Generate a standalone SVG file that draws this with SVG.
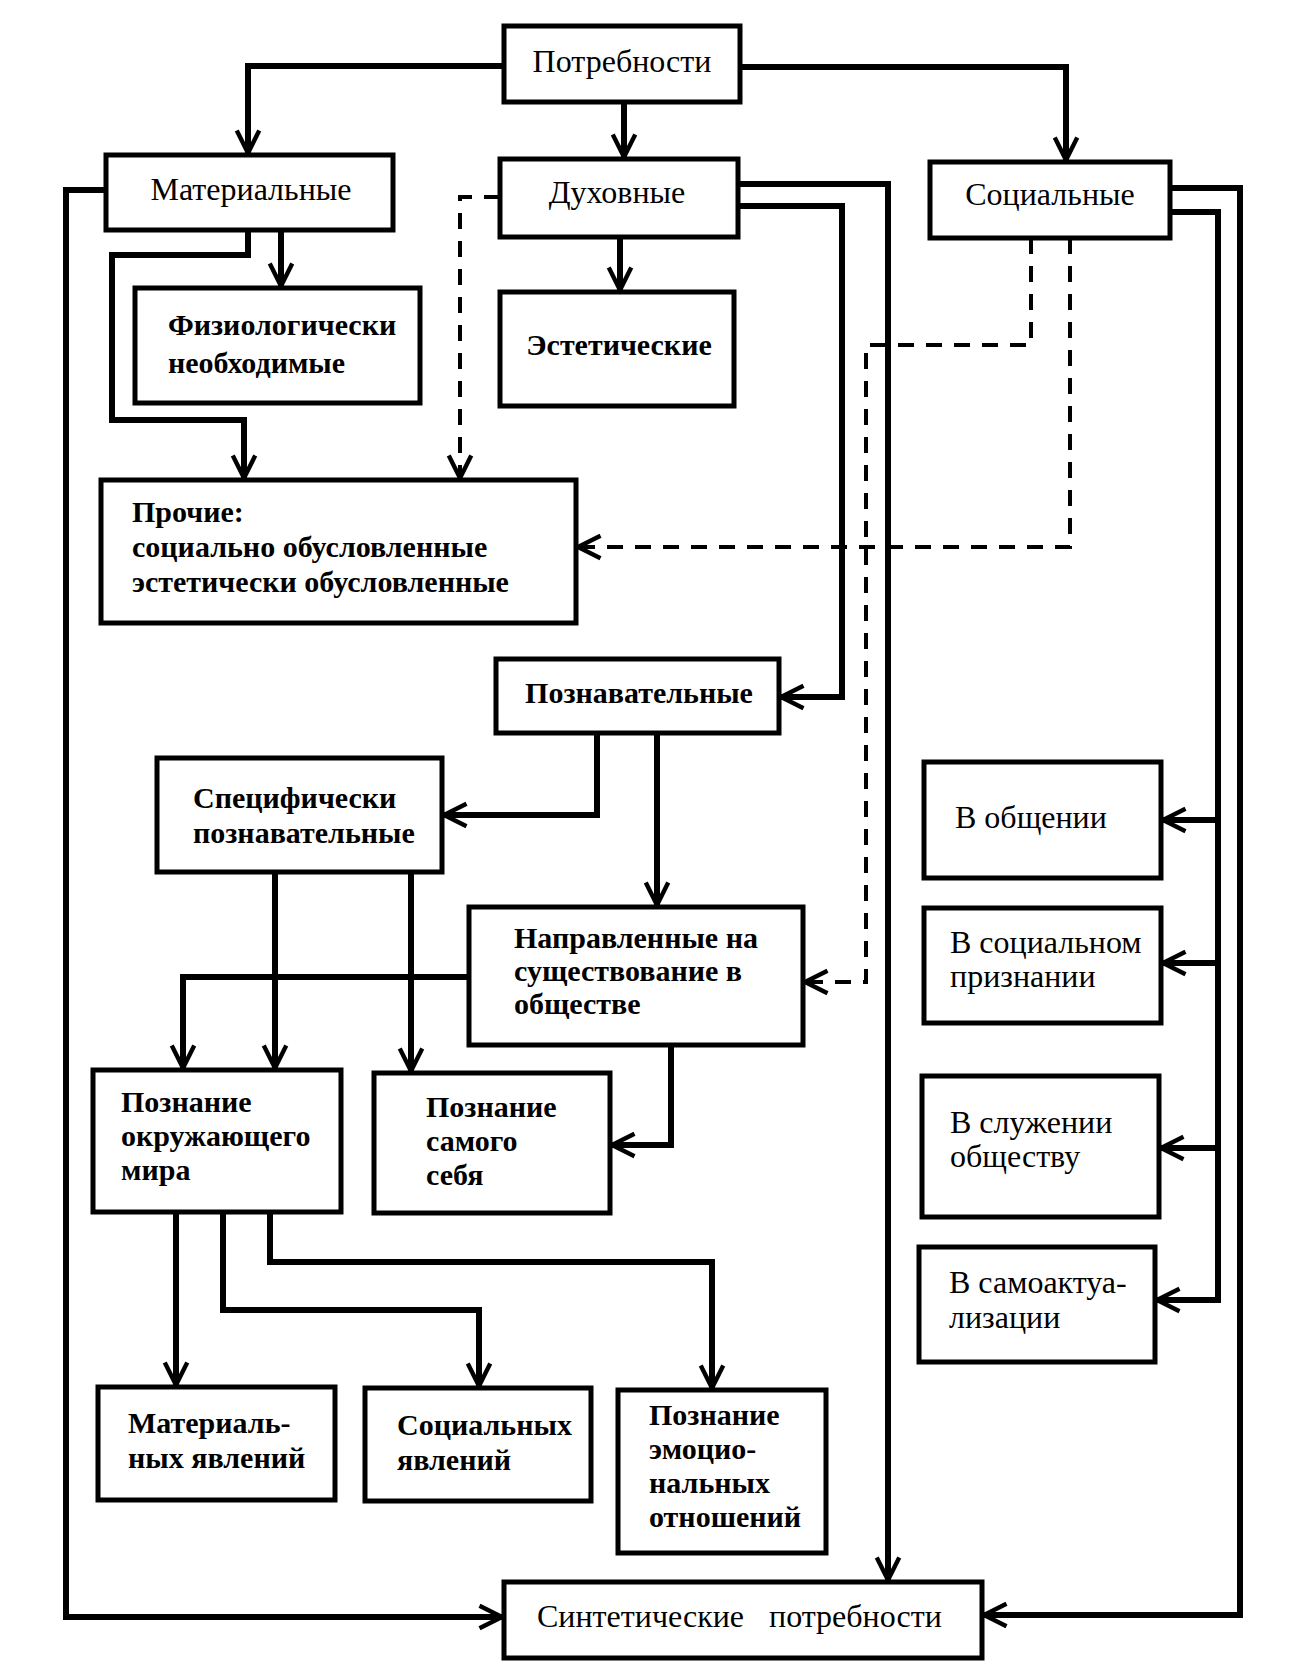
<svg xmlns="http://www.w3.org/2000/svg" width="1290" height="1672" viewBox="0 0 1290 1672">
<defs>
<style>
.n rect{fill:#fff;stroke:#000;stroke-width:5}
text{font-family:"Liberation Serif","DejaVu Serif",serif;font-size:32px;fill:#000}
.b{font-weight:bold;font-size:30px}
.c{fill:none;stroke:#000;stroke-width:6;stroke-linejoin:miter}
.d{fill:none;stroke:#000;stroke-width:4;stroke-dasharray:16 12}
</style>
<marker id="a" markerUnits="userSpaceOnUse" markerWidth="30" markerHeight="30" refX="0" refY="0" viewBox="-20 -12 24 24" orient="auto" overflow="visible">
<path d="M-18,-9 L0,0 L-18,9" fill="none" stroke="#000" stroke-width="3.5"/>
</marker>
</defs>
<rect width="1290" height="1672" fill="#fff"/>
<g id="connectors">
<path class="c" d="M504,66 H248 V153" marker-end="url(#a)"/>
<path class="c" d="M624,102 V157" marker-end="url(#a)"/>
<path class="c" d="M740,67 H1066 V160" marker-end="url(#a)"/>
<path class="c" d="M281,230 V286" marker-end="url(#a)"/>
<path class="c" d="M248,230 V255 H112 V420 H244 V478" marker-end="url(#a)"/>
<path class="c" d="M106,190 H66 V1617 H502" marker-end="url(#a)"/>
<path class="c" d="M620,237 V290" marker-end="url(#a)"/>
<path class="d" d="M500,197 H460 V478" marker-end="url(#a)"/>
<path class="c" d="M738,184 H888 V1580" marker-end="url(#a)"/>
<path class="c" d="M738,206 H842 V697 H781" marker-end="url(#a)"/>
<path class="d" d="M1070,238 V547 H578" marker-end="url(#a)"/>
<path class="d" d="M1031,238 V345 H866 V982 H805" marker-end="url(#a)"/>
<path class="c" d="M1170,188 H1240 V1615 H984" marker-end="url(#a)"/>
<path class="c" d="M1170,212 H1218 V1300 H1157" marker-end="url(#a)"/>
<path class="c" d="M1218,820 H1163" marker-end="url(#a)"/>
<path class="c" d="M1218,963 H1163" marker-end="url(#a)"/>
<path class="c" d="M1218,1148 H1161" marker-end="url(#a)"/>
<path class="c" d="M597,733 V815 H444" marker-end="url(#a)"/>
<path class="c" d="M657,733 V905" marker-end="url(#a)"/>
<path class="c" d="M275,872 V1068" marker-end="url(#a)"/>
<path class="c" d="M411,872 V1071" marker-end="url(#a)"/>
<path class="c" d="M469,977 H183 V1068" marker-end="url(#a)"/>
<path class="c" d="M671,1045 V1145 H612" marker-end="url(#a)"/>
<path class="c" d="M176,1212 V1385" marker-end="url(#a)"/>
<path class="c" d="M223,1212 V1310 H479 V1386" marker-end="url(#a)"/>
<path class="c" d="M270,1212 V1262 H712 V1388" marker-end="url(#a)"/>
</g>
<g class="n" id="n-potrebnosti"><rect x="504" y="26" width="236" height="76"/><text x="622" y="72" text-anchor="middle">Потребности</text></g>
<g class="n" id="n-materialnye"><rect x="106" y="155" width="287" height="75"/><text x="251" y="200" text-anchor="middle">Материальные</text></g>
<g class="n" id="n-duhovnye"><rect x="500" y="159" width="238" height="78"/><text x="617" y="203" text-anchor="middle">Духовные</text></g>
<g class="n" id="n-socialnye"><rect x="930" y="162" width="240" height="76"/><text x="1050" y="205" text-anchor="middle">Социальные</text></g>
<g class="n" id="n-fiziol"><rect x="135" y="288" width="285" height="115"/><text class="b" x="168" y="335">Физиологически</text><text class="b" x="168" y="373">необходимые</text></g>
<g class="n" id="n-estet"><rect x="500" y="292" width="234" height="114"/><text class="b" x="619" y="355" text-anchor="middle">Эстетические</text></g>
<g class="n" id="n-prochie"><rect x="101" y="480" width="475" height="143"/><text class="b" x="132" y="522">Прочие:</text><text class="b" x="132" y="557">социально обусловленные</text><text class="b" x="132" y="592">эстетически обусловленные</text></g>
<g class="n" id="n-poznavat"><rect x="496" y="659" width="283" height="74"/><text class="b" x="639" y="703" text-anchor="middle">Познавательные</text></g>
<g class="n" id="n-specif"><rect x="157" y="758" width="285" height="114"/><text class="b" x="193" y="808">Специфически</text><text class="b" x="193" y="843">познавательные</text></g>
<g class="n" id="n-napravl"><rect x="469" y="907" width="334" height="138"/><text class="b" x="514" y="948">Направленные на</text><text class="b" x="514" y="981">существование в</text><text class="b" x="514" y="1014">обществе</text></g>
<g class="n" id="n-pozn-okr"><rect x="93" y="1070" width="248" height="142"/><text class="b" x="121" y="1112">Познание</text><text class="b" x="121" y="1146">окружающего</text><text class="b" x="121" y="1180">мира</text></g>
<g class="n" id="n-pozn-sam"><rect x="374" y="1073" width="236" height="140"/><text class="b" x="426" y="1117">Познание</text><text class="b" x="426" y="1151">самого</text><text class="b" x="426" y="1185">себя</text></g>
<g class="n" id="n-mat-yavl"><rect x="98" y="1387" width="237" height="113"/><text class="b" x="128" y="1433">Материаль-</text><text class="b" x="128" y="1468">ных явлений</text></g>
<g class="n" id="n-soc-yavl"><rect x="365" y="1388" width="226" height="113"/><text class="b" x="397" y="1435">Социальных</text><text class="b" x="397" y="1470">явлений</text></g>
<g class="n" id="n-emoc"><rect x="618" y="1390" width="208" height="163"/><text class="b" x="649" y="1425">Познание</text><text class="b" x="649" y="1459">эмоцио-</text><text class="b" x="649" y="1493">нальных</text><text class="b" x="649" y="1527">отношений</text></g>
<g class="n" id="n-sintet"><rect x="504" y="1582" width="478" height="76"/><text x="537" y="1627">Синтетические<tspan x="769">потребности</tspan></text></g>
<g class="n" id="n-obshenie"><rect x="924" y="762" width="237" height="116"/><text x="955" y="828">В общении</text></g>
<g class="n" id="n-priznanie"><rect x="924" y="908" width="237" height="115"/><text x="950" y="953">В социальном</text><text x="950" y="987">признании</text></g>
<g class="n" id="n-sluzhenie"><rect x="922" y="1076" width="237" height="141"/><text x="950" y="1133">В служении</text><text x="950" y="1167">обществу</text></g>
<g class="n" id="n-samoakt"><rect x="919" y="1247" width="236" height="115"/><text x="949" y="1293">В самоактуа-</text><text x="949" y="1328">лизации</text></g>
</svg>
